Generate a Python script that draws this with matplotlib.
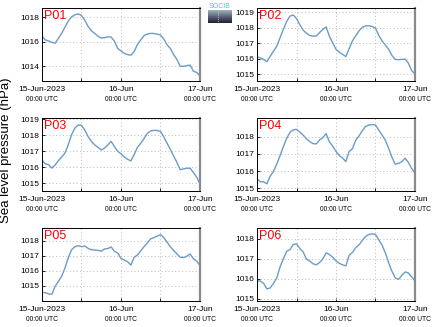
import matplotlib
matplotlib.use("Agg")
import matplotlib.pyplot as plt
import numpy as np

plt.rcParams['font.family'] = ['Liberation Sans', 'DejaVu Sans']

# hours since 15-Jun-2023 00:00 UTC
hours = list(range(49))

p01 = [1016.45, 1016.15, 1016.06, 1015.95, 1015.88, 1016.28, 1016.7, 1017.2, 1017.7, 1018.02,
       1018.2, 1018.27, 1018.15, 1017.75, 1017.25, 1016.9, 1016.68, 1016.45, 1016.3, 1016.33,
       1016.4, 1016.38, 1016.05, 1015.45, 1015.25, 1015.05, 1014.95, 1014.9, 1015.2, 1015.78,
       1016.15, 1016.5, 1016.63, 1016.68, 1016.67, 1016.62, 1016.55, 1016.22, 1015.75, 1015.45,
       1014.95, 1014.55, 1014.0, 1014.0, 1014.05, 1014.1, 1013.6, 1013.5, 1013.2]
p02 = [1016.12, 1016.05, 1015.95, 1015.8, 1016.15, 1016.48, 1016.8, 1017.35, 1017.9, 1018.4,
       1018.75, 1018.83, 1018.6, 1018.2, 1017.85, 1017.65, 1017.5, 1017.46, 1017.46, 1017.68,
       1017.9, 1018.05, 1017.45, 1017.02, 1016.6, 1016.42, 1016.28, 1016.13, 1016.65, 1017.15,
       1017.48, 1017.8, 1018.03, 1018.12, 1018.13, 1018.08, 1017.98, 1017.5, 1017.15, 1016.88,
       1016.6, 1016.2, 1015.95, 1015.93, 1015.95, 1015.97, 1015.7, 1015.22, 1015.0]
p03 = [1016.46, 1016.22, 1016.16, 1015.95, 1016.15, 1016.42, 1016.65, 1016.9, 1017.42, 1018.05,
       1018.45, 1018.65, 1018.62, 1018.33, 1017.92, 1017.62, 1017.4, 1017.25, 1017.08, 1017.2,
       1017.4, 1017.62, 1017.3, 1017.0, 1016.84, 1016.65, 1016.5, 1016.4, 1016.8, 1017.25,
       1017.5, 1017.8, 1018.12, 1018.27, 1018.31, 1018.3, 1018.25, 1017.9, 1017.5, 1017.12,
       1016.7, 1016.3, 1015.85, 1015.9, 1015.94, 1015.94, 1015.68, 1015.38, 1014.96]
p04 = [1015.54, 1015.38, 1015.37, 1015.26, 1015.7, 1015.98, 1016.4, 1016.9, 1017.42, 1017.9,
       1018.25, 1018.4, 1018.43, 1018.27, 1018.1, 1017.88, 1017.72, 1017.6, 1017.58, 1017.81,
       1017.95, 1018.18, 1017.7, 1017.45, 1017.15, 1016.9, 1016.76, 1016.55, 1017.15, 1017.3,
       1017.8, 1018.05, 1018.35, 1018.6, 1018.68, 1018.71, 1018.68, 1018.38, 1018.1, 1017.8,
       1017.32, 1016.8, 1016.4, 1016.45, 1016.55, 1016.75, 1016.5, 1016.15, 1015.87]
p05 = [1014.58, 1014.55, 1014.47, 1014.45, 1014.98, 1015.3, 1015.65, 1016.2, 1016.88, 1017.4,
       1017.6, 1017.67, 1017.6, 1017.65, 1017.49, 1017.4, 1017.38, 1017.36, 1017.3, 1017.45,
       1017.48, 1017.58, 1017.3, 1017.18, 1016.82, 1016.72, 1016.6, 1016.38, 1016.9, 1017.05,
       1017.33, 1017.6, 1017.85, 1018.12, 1018.2, 1018.3, 1018.4, 1018.2, 1017.9, 1017.6,
       1017.35, 1017.12, 1016.9, 1016.88, 1016.97, 1017.12, 1016.8, 1016.64, 1016.35]
p06 = [1015.9, 1015.9, 1015.78, 1015.5, 1015.55, 1015.78, 1016.05, 1016.6, 1017.0, 1017.38,
       1017.45, 1017.72, 1017.75, 1017.52, 1017.35, 1017.0, 1016.89, 1016.76, 1016.7, 1016.82,
       1017.0, 1017.3, 1017.22, 1017.08, 1016.9, 1016.78, 1016.7, 1016.65, 1017.18, 1017.32,
       1017.56, 1017.7, 1017.92, 1018.12, 1018.22, 1018.25, 1018.22, 1017.95, 1017.68, 1017.3,
       1016.8, 1016.38, 1016.05, 1015.98, 1016.18, 1016.35, 1016.3, 1016.1, 1015.9]

names = ["P01", "P02", "P03", "P04", "P05", "P06"]
series = [p01, p02, p03, p04, p05, p06]
ylims = [(1012.8, 1018.75), (1014.55, 1019.28), (1014.52, 1019.08),
         (1014.84, 1019.09), (1014.0, 1018.84), (1014.9, 1018.54)]
yticks = [[1014, 1016, 1018], [1015, 1016, 1017, 1018, 1019], [1015, 1016, 1017, 1018, 1019],
          [1015, 1016, 1017, 1018], [1015, 1016, 1017, 1018], [1015, 1016, 1017, 1018]]

grid_hours = [0, 12, 24, 36, 48]
day_labels = ["15-Jun-2023", "", "16-Jun", "", "17-Jun"]
time_hours = [0, 24, 48]
time_labels = ["00:00 UTC", "00:00 UTC", "00:00 UTC"]

fig = plt.figure(figsize=(4.35, 3.27), dpi=100)
W, H = 435.0, 327.0
lefts = [42, 257]
tops = [8, 118, 228]

for i, (name, vals) in enumerate(zip(names, series)):
    col = i % 2
    row = i // 2
    ax = fig.add_axes([lefts[col] / W, 1 - (tops[row] + 73) / H, 158 / W, 73 / H])
    ax.xaxis.remove_overlapping_locs = False
    ax.plot(hours, vals, color="#6b9cc9", lw=1.0)
    ax.set_xlim(0, 48)
    ax.set_ylim(*ylims[i])
    ax.set_yticks(yticks[i])
    ax.set_yticklabels([str(v) for v in yticks[i]])
    ax.set_xticks(grid_hours)
    ax.set_xticklabels(day_labels)
    ax.set_xticks(time_hours, minor=True)
    ax.set_xticklabels(time_labels, minor=True)
    ax.tick_params(axis="both", which="major", direction="in", length=2.5, width=0.6,
                   pad=1.8, labelsize=6)
    ax.tick_params(axis="x", which="major", pad=3.5)
    ax.tick_params(axis="x", which="minor", length=0, pad=11, labelsize=4.8)
    ax.grid(True, which="major", color="#bbbbbb", linestyle=(0, (1, 2.5)), linewidth=0.7)
    for s in ["left", "top", "bottom"]:
        ax.spines[s].set_linewidth(0.7)
    ax.spines["right"].set_color("#8a8a8a")
    ax.spines["right"].set_linewidth(1.6)
    ax.text(0.012, 0.97, name, transform=ax.transAxes, color="red", fontsize=9,
            ha="left", va="top")

fig.text(6.5 / W, 1 - 150 / H, "Sea level pressure (hPa)", rotation=90,
         ha="center", va="center", fontsize=9.5)

# small logo
lax = fig.add_axes([208 / W, 1 - 23 / H, 24 / W, 13 / H])
grad = np.linspace(0, 1, 20).reshape(-1, 1)
lax.imshow(grad, aspect="auto", cmap="bone_r", vmin=-0.6, vmax=1.3)
lax.axvline(-0.1, color="white", lw=0.5, ls=":")
lax.axis("off")
fig.text(220 / W, 1 - 6 / H, "SOCIB", color="#4fbfd6", fontsize=5, ha="center", va="center")

fig.savefig("out.png", dpi=100)
